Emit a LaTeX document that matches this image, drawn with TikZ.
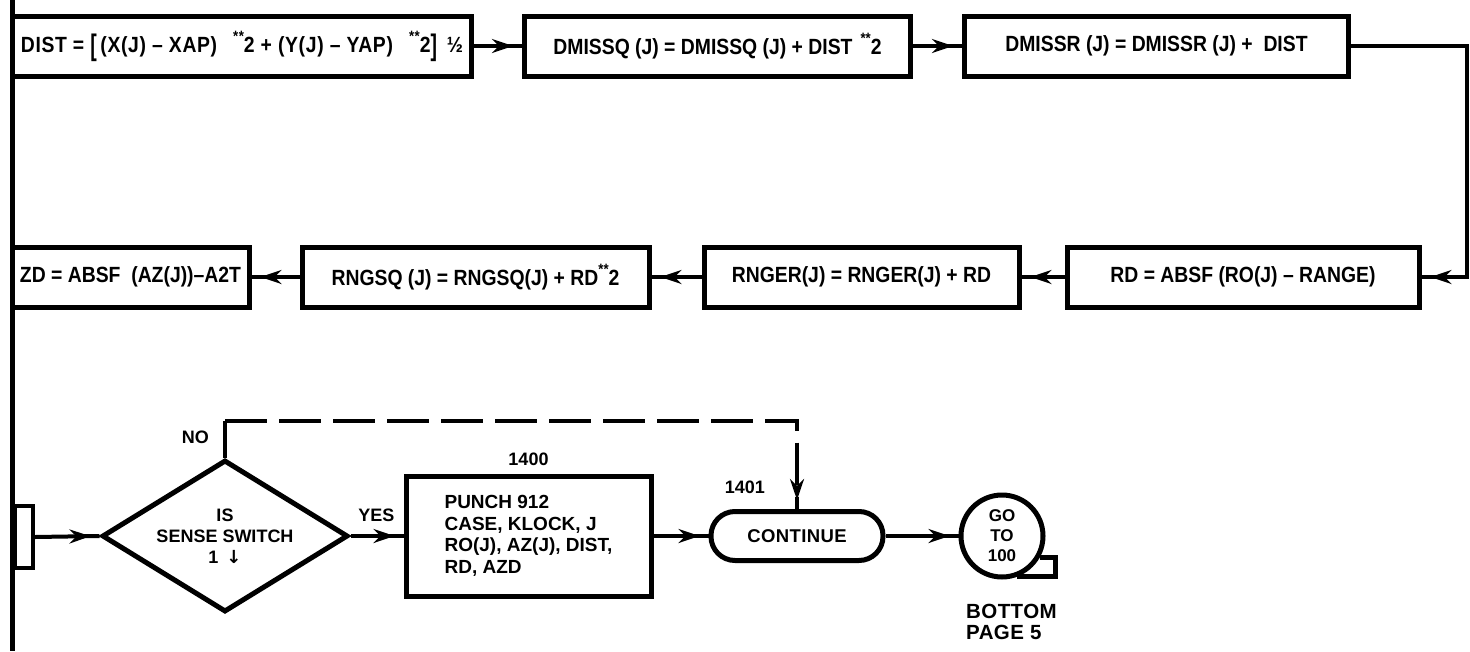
\documentclass[tikz,border=0pt]{standalone}
\usepackage{fontspec}
\newfontfamily\flowfont{Liberation Sans}
\newfontfamily\rowfont{Liberation Sans}[FakeStretch=0.88]
\newfontfamily\symfont{DejaVu Sans}
\usetikzlibrary{shapes.geometric, arrows.meta, positioning, calc, decorations.markings}
\newcommand{\stars}{\raisebox{11pt}{\fontsize{15}{15}\selectfont **}}
\newcommand{\bigbrack}[1]{\raisebox{-3pt}{\scalebox{1}[1.35]{#1}}}
\tikzset{
    x=1pt, y=1pt,
    font=\flowfont\bfseries,
    >=Stealth,
    % Shapes
    proc/.style={rectangle, draw, line width=5pt, minimum height=60pt, inner sep=0pt,
                 align=center, font=\rowfont\bfseries\fontsize{22}{26}\selectfont},
    punchbox/.style={proc, minimum width=245pt, minimum height=120pt, align=left,
                 font=\flowfont\bfseries\fontsize{19}{21.5}\selectfont},
    decision/.style={diamond, draw, line width=5pt, aspect=1.62, inner sep=0pt,
                 minimum width=246pt, minimum height=152pt, align=center,
                 font=\flowfont\bfseries\fontsize{18}{21}\selectfont},
    terminal/.style={rectangle, draw, line width=5pt, rounded corners=24pt,
                 minimum width=172pt, minimum height=49pt,
                 font=\flowfont\bfseries\fontsize{18.5}{21}\selectfont\addfontfeatures{LetterSpace=2}},
    offpage/.style={circle, draw, line width=5pt, minimum size=82pt, inner sep=0pt, align=center,
                 font=\flowfont\bfseries\fontsize{17}{20}\selectfont},
    tabbox/.style={rectangle, draw, line width=4pt, minimum width=18pt, minimum height=62pt, inner sep=0pt},
    % Flow & Labels
    flow/.style={line width=4pt, postaction={decorate},
                 decoration={markings, mark=at position -9pt with {\arrow{Stealth[length=21pt, width=14pt, inset=7pt]}}}},
    rail/.style={line width=5pt},
    dashflow/.style={flow, dash pattern=on 42pt off 12pt},
    lbl/.style={inner sep=0pt, font=\flowfont\bfseries\fontsize{18}{21}\selectfont}
}

\begin{document}
\begin{tikzpicture}[node distance=48pt]
\useasboundingbox (0,0) rectangle (1470,-651);

\coordinate (railtop) at (12,0);
\coordinate (railbot) at (12,-651);
\coordinate (rturn) at (1467,0);

\node[proc, minimum width=459pt] (dist) at (242,-46)
    {\addfontfeatures{LetterSpace=3}DIST = \bigbrack{[}\,(X(J) – XAP)\hspace{16pt}\stars2 + (Y(J) – YAP)\hspace{16pt}\stars2\bigbrack{]}\hspace{10pt}½};
\node[proc, minimum width=386pt, right=48pt of dist] (dmissq) {DMISSQ (J) = DMISSQ (J) + DIST\hspace{8pt}\stars2};
\node[proc, minimum width=384pt, right=49pt of dmissq] (dmissr) {DMISSR (J) = DMISSR (J) + \ DIST};

\node[proc, minimum width=352pt] (rd) at (1243,-277) {RD = ABSF (RO(J) – RANGE)};
\node[proc, minimum width=315pt, left=43pt of rd] (rnger) {RNGER(J) = RNGER(J) + RD};
\node[proc, minimum width=347pt, left=50pt of rnger] (rngsq) {RNGSQ (J) = RNGSQ(J) + RD\stars2};
\node[proc, minimum width=237pt, left=48pt of rngsq] (azd) {ZD = ABSF\ \ (AZ(J))–A2T};

\node[tabbox] (tab) at (24,-537) {};
\node[decision] (dec) at (225,-536) {IS\\SENSE SWITCH\\1 \,{\symfont\bfseries ↓}};
\node[punchbox, right=53pt of dec] (punch) {PUNCH 912\\CASE, KLOCK, J\\RO(J), AZ(J), DIST,\\RD, AZD};
\node[terminal, right=55pt of punch] (cont) {CONTINUE};
\node[offpage, right=73pt of cont] (goto) {GO\\TO\\100};
\coordinate (nocorner) at ($(dec.north)+(0,37)$);

\node[lbl, anchor=east] (nolbl) at ($(dec.north)+(-16,20)$) {NO};
\node[lbl, anchor=south east] (yeslbl) at ($(punch.west)+(-9,14)$) {YES};
\node[lbl, above=8pt of punch] (l1400) {1400};
\node[lbl, anchor=south east] (l1401) at ($(cont.north)+(-32,15)$) {1401};
\node[lbl, anchor=north west, align=left, font=\flowfont\bfseries\fontsize{20.5}{21}\selectfont\addfontfeatures{LetterSpace=2}]
    (bottom) at ($(goto.south)+(-36,-24)$) {BOTTOM\\PAGE 5};

\draw[rail] (railtop) -- (railbot);
\draw[flow] (dist.east) -- (dmissq.west);
\draw[flow] (dmissq.east) -- (dmissr.west);
\draw[flow] (dmissr.east) -- (dmissr.east -| rturn) -- (rturn |- rd.east) -- (rd.east);
\draw[flow] (rd.west) -- (rnger.east);
\draw[flow] (rnger.west) -- (rngsq.east);
\draw[flow] (rngsq.west) -- (azd.east);

\draw[flow] (tab.east) -- (dec.west);
\draw[flow] (dec.east) -- (punch.west);
\draw[flow] (punch.east) -- (cont.west);
\draw[flow] (cont.east) -- (goto.west);
\draw[line width=4pt] (dec.north) -- (nocorner);
\draw[dashflow] (nocorner) -| (cont.north);
\draw[line width=5pt] (goto.-30) -- ($(goto.east |- goto.-30)+(10,0)$) |- (goto.-70);

\end{tikzpicture}
\end{document}
